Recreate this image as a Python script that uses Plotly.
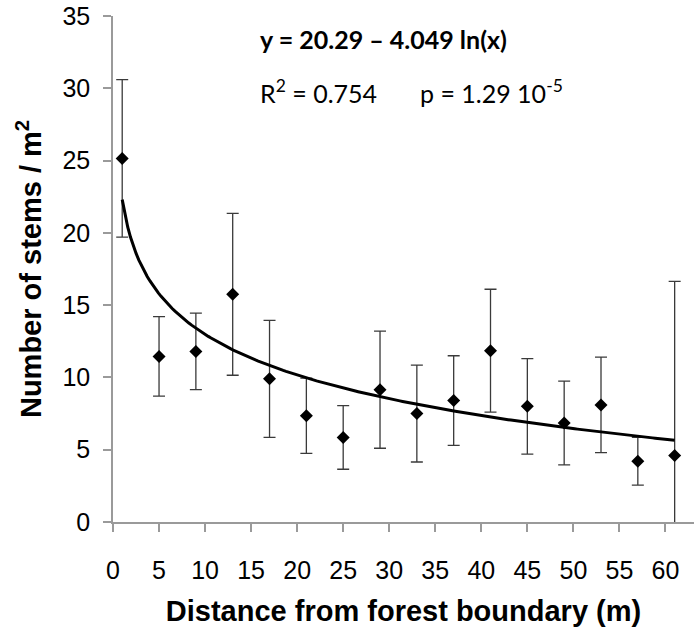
import numpy as np
import plotly.graph_objects as go

# Distance from forest boundary (m)
distance = [1, 5, 9, 13, 17, 21, 25, 29, 33, 37, 41, 45, 49, 53, 57, 61]
# Mean number of stems per m2
stems = [25.15, 11.45, 11.8, 15.75, 9.9, 7.35, 5.85, 9.15, 7.5, 8.4, 11.85, 8.0, 6.85, 8.1, 4.2, 4.6]
# Error bar half-length
stems_err = [5.45, 2.75, 2.65, 5.6, 4.05, 2.6, 2.2, 4.05, 3.35, 3.1, 4.25, 3.3, 2.9, 3.3, 1.65, 12.05]

# Logarithmic trend line coefficients (as drawn)
FIT_INTERCEPT = 22.3
FIT_SLOPE = 4.049

x_ticks = list(range(0, 65, 5))
y_ticks = list(range(0, 40, 5))

fit_x = np.linspace(min(distance), max(distance), 200)
fit_y = FIT_INTERCEPT - FIT_SLOPE * np.log(fit_x)

fig = go.Figure()
fig.add_trace(go.Scatter(
    x=distance, y=stems, mode="markers",
    marker=dict(symbol="diamond", size=10, color="black"),
    error_y=dict(type="data", array=stems_err, visible=True,
                 color="#3a3a3a", thickness=1.3, width=6),
    showlegend=False,
))
fig.add_trace(go.Scatter(
    x=fit_x, y=fit_y, mode="lines",
    line=dict(color="black", width=3),
    showlegend=False,
))

axis_common = dict(
    showline=True, linecolor="#9a9a9a", linewidth=1.5,
    ticks="outside", ticklen=8, tickcolor="#9a9a9a", tickwidth=1.5,
    showgrid=False, zeroline=False,
    tickfont=dict(family="Liberation Sans, Arial", size=25, color="black"),
)

fig.update_xaxes(range=[0, 63.1], tickvals=x_ticks, ticklabelstandoff=17,
                 title=dict(text="<b>Distance from forest boundary (m)</b>",
                            font=dict(family="Liberation Sans, Arial", size=29, color="black"),
                            standoff=19),
                 **axis_common)
fig.update_yaxes(range=[0, 35], tickvals=y_ticks, ticklabelstandoff=8,
                 title=dict(text="<b>Number of stems / m<sup>2</sup></b>",
                            font=dict(family="Liberation Sans, Arial", size=29, color="black"),
                            standoff=12),
                 **axis_common)

ann_font = dict(family="Lato", size=25, color="black")
fig.add_annotation(x=15.7, y=33.4, xref="x", yref="y", xanchor="left", yanchor="middle",
                   text="<b>y = 20.29 – 4.049 ln(x)</b>", showarrow=False, font=ann_font)
fig.add_annotation(x=15.7, y=29.75, xref="x", yref="y", xanchor="left", yanchor="middle",
                   text="R<sup>2</sup> = 0.754", showarrow=False, font=ann_font)
fig.add_annotation(x=33.1, y=29.75, xref="x", yref="y", xanchor="left", yanchor="middle",
                   text="p = 1.29 10<sup>-5</sup>", showarrow=False, font=ann_font)

fig.update_layout(
    width=694, height=627, autosize=False,
    margin=dict(l=113, r=0, t=16, b=105),
    plot_bgcolor="white", paper_bgcolor="white",
)

fig.write_html("out.html")
